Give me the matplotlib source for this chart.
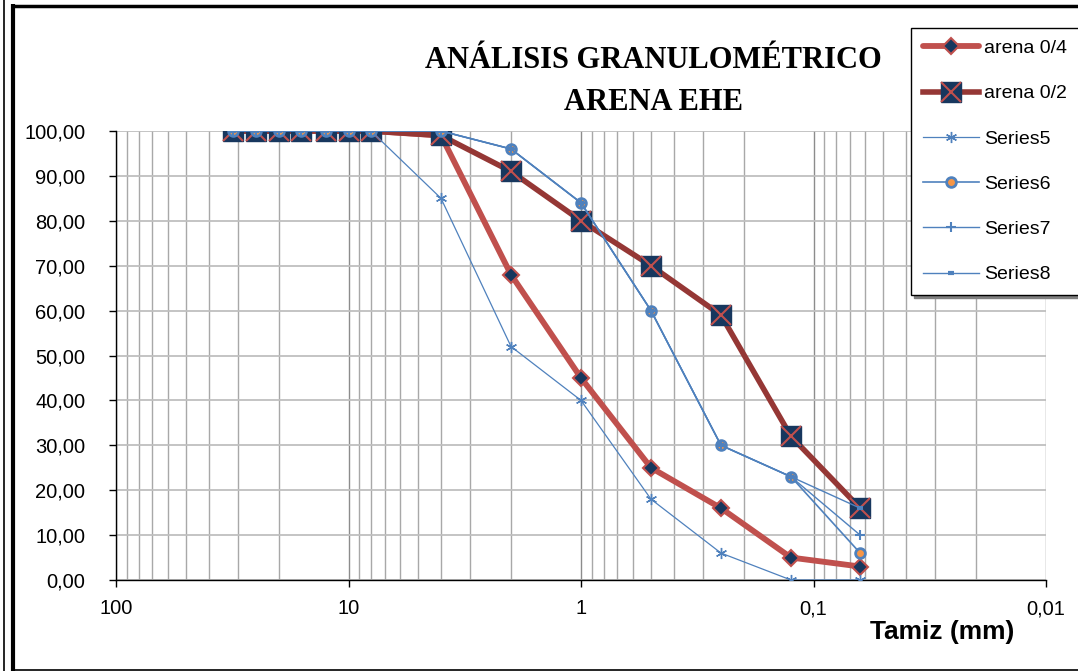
import matplotlib
matplotlib.use("Agg")
import matplotlib.pyplot as plt
from matplotlib.lines import Line2D
from matplotlib.ticker import FixedLocator, FixedFormatter, LogLocator, NullFormatter

# tamices (mm) y % que pasa
tamiz = [31.5, 25, 20, 16, 12.5, 10, 8, 4, 2, 1, 0.5, 0.25, 0.125, 0.063]
arena_04 = [100, 100, 100, 100, 100, 100, 100, 99, 68, 45, 25, 16, 5, 3]
arena_02 = [100, 100, 100, 100, 100, 100, 100, 99, 91, 80, 70, 59, 32, 16]
series5 = [100, 100, 100, 100, 100, 100, 100, 85, 52, 40, 18, 6, 0, 0]
series6 = [100, 100, 100, 100, 100, 100, 100, 100, 96, 84, 60, 30, 23, 6]
series7 = [100, 100, 100, 100, 100, 100, 100, 100, 96, 84, 60, 30, 23, 10]
series8 = [100, 100, 100, 100, 100, 100, 100, 100, 96, 84, 60, 30, 23, 16]

xticks = [100, 10, 1, 0.1, 0.01]
xlabels = ["100", "10", "1", "0,1", "0,01"]
yticks = [0, 10, 20, 30, 40, 50, 60, 70, 80, 90, 100]
ylabels = [f"{v},00" for v in yticks]

RED = "#C0504D"
DRED = "#953735"
NAVY = "#17375E"
BLUE = "#4F81BD"
ORANGE = "#F79646"

plt.rcParams["font.family"] = ["Liberation Sans", "DejaVu Sans"]

fig = plt.figure(figsize=(10.78, 6.71), dpi=100)
W, H = 1078, 671
ax = fig.add_axes([116 / W, 1 - 580 / H, (1046 - 116) / W, (580 - 131) / H])

ax.set_xscale("log")
ax.set_xlim(100, 0.01)
ax.set_ylim(0, 100)

l04, = ax.plot(tamiz, arena_04, color=RED, lw=4.2, marker="D", ms=8,
               mfc=NAVY, mec=RED, mew=1.5, solid_capstyle="round", zorder=3)
l02, = ax.plot(tamiz, arena_02, color=DRED, lw=4.0, marker="s", ms=15,
               mfc=NAVY, mec=NAVY, zorder=4)
x02, = ax.plot(tamiz, arena_02, ls="none", marker="x", ms=14, mec=RED, mew=1.5, zorder=4)
l5, = ax.plot(tamiz, series5, color=BLUE, lw=0.9, marker=(6, 2, 0), ms=8,
              mec=BLUE, mew=1, zorder=5)
l6, = ax.plot(tamiz, series6, color=BLUE, lw=1.2, marker="o", ms=7,
              mfc=ORANGE, mec=BLUE, mew=2, zorder=5)
l7, = ax.plot(tamiz, series7, color=BLUE, lw=1.0, marker="+", ms=7,
              mec=BLUE, mew=1.5, zorder=6)
l8, = ax.plot(tamiz, series8, color=BLUE, lw=1.0, marker="_", ms=5,
              mec=BLUE, mew=3, zorder=6)

# rejilla
ax.xaxis.set_major_locator(FixedLocator(xticks))
ax.xaxis.set_major_formatter(FixedFormatter(xlabels))
ax.xaxis.set_minor_locator(LogLocator(base=10, subs=range(2, 10)))
ax.xaxis.set_minor_formatter(NullFormatter())
ax.set_yticks(yticks)
ax.set_yticklabels(ylabels)
ax.grid(True, which="major", axis="x", color="#8C8C8C", lw=1)
ax.grid(True, which="minor", axis="x", color="#A8A8A8", lw=1)
ax.grid(True, which="major", axis="y", color="#BFBFBF", lw=1.3)
ax.set_axisbelow(True)
ax.tick_params(axis="y", which="major", direction="out", length=5, width=1,
               labelsize=14.5, pad=17)
ax.tick_params(axis="x", which="major", direction="out", length=5, width=1,
               labelsize=14.5, pad=9)
ax.tick_params(axis="x", which="minor", length=0)
for s in ["top", "right"]:
    ax.spines[s].set_visible(False)
for s in ["left", "bottom"]:
    ax.spines[s].set_color("black")
    ax.spines[s].set_linewidth(1)

fig.text(653 / W, 1 - 60 / H, "ANÁLISIS GRANULOMÉTRICO", ha="center", va="center",
         family=["Liberation Serif"], weight="bold", fontsize=22)
fig.text(653 / W, 1 - 103 / H, "ARENA EHE", ha="center", va="center",
         family=["Liberation Serif"], weight="bold", fontsize=22)
fig.text(942 / W, 1 - 632 / H, "Tamiz (mm)", ha="center", va="center",
         weight="bold", fontsize=19)

leg = fig.legend([l04, (l02, x02), l5, l6, l7, l8],
                 ["arena 0/4", "arena 0/2", "Series5", "Series6", "Series7", "Series8"],
                 loc="upper left", bbox_to_anchor=(911 / W, 1 - 28 / H),
                 fontsize=14, frameon=True, fancybox=False, edgecolor="black",
                 framealpha=1, handlelength=2.9, labelspacing=1.42,
                 borderpad=0.6, handletextpad=0.25, borderaxespad=0,
                 shadow={"color": "#808080", "alpha": 1, "ox": 2, "oy": -2})
leg.get_frame().set_linewidth(1)
leg.set_zorder(10)

# marco
def fline(xs, ys, lw):
    fig.add_artist(Line2D([x / W for x in xs], [1 - y / H for y in ys],
                          transform=fig.transFigure, color="black", lw=lw,
                          solid_capstyle="butt"))

fline([13, W], [5.5, 5.5], 2.5)
fline([13, 13], [4, H], 3)
fline([3.5, 3.5], [0, H], 1.2)
fline([13, W], [670, 670], 1.2)

fig.savefig("out.png", dpi=100)
